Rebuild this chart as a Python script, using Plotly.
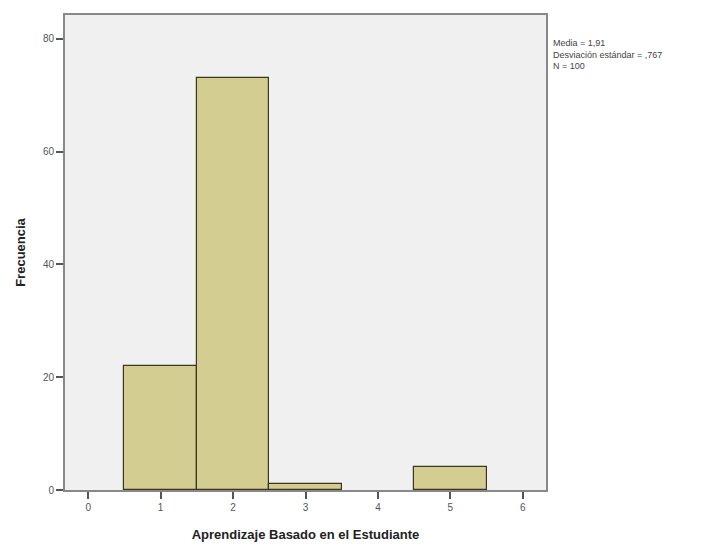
import plotly.graph_objects as go

bins = [1, 2, 3, 5]
frecuencia = [22, 73, 1, 4]
x_ticks = [0, 1, 2, 3, 4, 5, 6]
y_ticks = [0, 20, 40, 60, 80]
stats_text = "Media = 1,91<br>Desviación estándar = ,767<br>N = 100"

fig = go.Figure()
fig.add_trace(go.Bar(
    x=bins, y=frecuencia, width=1,
    marker=dict(color="#D3CD91", line=dict(color="#3b3522", width=1.2)),
    showlegend=False,
))

fig.update_layout(
    width=703, height=538,
    margin=dict(l=57, r=165, t=5, b=56),
    paper_bgcolor="white",
    plot_bgcolor="#F0F0F0",
    font=dict(family="Liberation Sans, Arial, sans-serif", color="#333"),
    bargap=0,
)
fig.update_xaxes(
    range=[-0.32, 6.32], tickvals=x_ticks, ticktext=[str(v) for v in x_ticks],
    ticks="outside", ticklen=7, tickcolor="#555", tickwidth=1.5,
    tickfont=dict(size=10, color="#555"),
    showgrid=False, zeroline=False,
    showline=True, linecolor="#888", linewidth=2, mirror=True,
    title=dict(text="<b>Aprendizaje Basado en el Estudiante</b>",
               font=dict(size=13, color="#222"), standoff=18),
)
fig.update_yaxes(
    range=[0, 84.2], tickvals=y_ticks,
    ticks="outside", ticklen=7, tickcolor="#555", tickwidth=1.5,
    tickfont=dict(size=10, color="#555"),
    showgrid=False, zeroline=False,
    showline=True, linecolor="#888", linewidth=2, mirror=True,
    title=dict(text="<b>Frecuencia</b>", font=dict(size=13, color="#222"), standoff=14),
)
fig.add_annotation(
    xref="paper", yref="paper", x=1.01, y=0.955, xanchor="left", yanchor="top",
    text=stats_text, showarrow=False, align="left",
    font=dict(size=9, color="#444"),
)

fig.write_html("out.html")
